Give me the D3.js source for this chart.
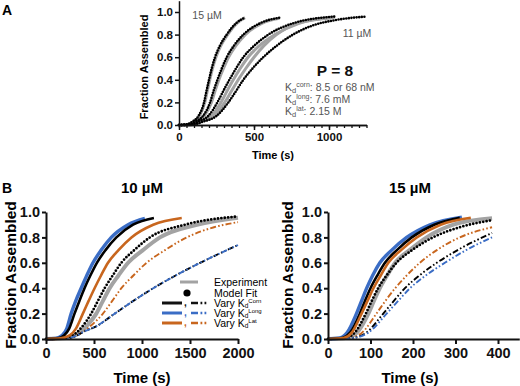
<!DOCTYPE html>
<html><head><meta charset="utf-8">
<script src="https://cdn.jsdelivr.net/npm/d3@7"></script>
<style>
body{margin:0;background:#fff;}
svg{display:block;font-family:"Liberation Sans",Arial,Helvetica,sans-serif;}
</style></head>
<body>
<svg id="c" width="520" height="386"></svg>
<script>
// ---------- DATA ----------
// Panel A: 15 µM .. 11 µM, experiment (grey) and model fit (black dots); [time s, fraction]
const aModel15 = [[0,0],[50,0.005],[90,0.03],[130,0.08],[167,0.2],[183,0.3],[200,0.4],[218,0.5],[240,0.6],[272,0.7],[318,0.8],[380,0.9],[440,0.95]];
const aExp15   = [[0,0],[55,0.005],[95,0.03],[135,0.08],[172,0.2],[188,0.3],[205,0.4],[223,0.5],[246,0.6],[278,0.7],[324,0.8],[385,0.9],[440,0.95]];
const aModel14 = [[0,0],[70,0.005],[110,0.03],[160,0.08],[207,0.2],[230,0.3],[256,0.4],[285,0.5],[318,0.6],[365,0.7],[429,0.8],[540,0.9],[670,0.95]];
const aExp14   = [[0,0],[75,0.005],[118,0.03],[168,0.08],[216,0.2],[240,0.3],[266,0.4],[296,0.5],[330,0.6],[378,0.7],[442,0.8],[552,0.9],[670,0.945]];
const aModel12 = [[0,0],[80,0.005],[130,0.03],[195,0.08],[256,0.2],[295,0.3],[336,0.4],[380,0.5],[429,0.6],[500,0.7],[596,0.8],[760,0.9],[1040,0.96]];
const aExp12   = [[0,0],[90,0.005],[145,0.03],[215,0.08],[280,0.2],[320,0.3],[362,0.4],[408,0.5],[460,0.6],[535,0.7],[640,0.8],[800,0.9],[1040,0.955]];
const aModel11 = [[0,0],[100,0.005],[160,0.03],[250,0.08],[329,0.2],[380,0.3],[429,0.4],[490,0.5],[562,0.6],[650,0.7],[760,0.8],[890,0.88],[1050,0.93],[1253,0.96]];
const aExp11   = [[0,0],[95,0.005],[150,0.03],[235,0.08],[305,0.2],[350,0.3],[395,0.4],[445,0.5],[500,0.6],[565,0.7],[650,0.8],[790,0.9],[1030,0.95]];
const aYTicks = [0,0.2,0.4,0.6,0.8,1.0];
const aXTicks = [0,500,1000];
const aKdLines = [["corn",": 8.5 or 68 nM"],["long",": 7.6 mM"],["lat",": 2.15 M"]];

// Panel B, 10 µM
const b10Exp      = [[0,0],[170,0.005],[330,0.04],[420,0.1],[524,0.2],[593,0.3],[663,0.4],[755,0.5],[855,0.6],[1010,0.7],[1187,0.8],[1571,0.9],[2000,0.955]];
const b10Model    = [[0,0],[150,0.005],[300,0.04],[380,0.1],[471,0.2],[541,0.3],[611,0.4],[695,0.5],[785,0.6],[920,0.7],[1082,0.8],[1449,0.9],[2000,0.965]];
const b10CornSolid= [[0,0],[120,0.005],[190,0.03],[240,0.08],[297,0.2],[348,0.3],[401,0.4],[462,0.5],[530,0.6],[620,0.7],[733,0.8],[907,0.9],[1124,0.953]];
const b10LongSolid= [[0,0],[100,0.005],[170,0.03],[215,0.08],[262,0.2],[310,0.3],[366,0.4],[425,0.5],[489,0.6],[575,0.7],[680,0.8],[855,0.9],[1030,0.95]];
const b10LatSolid = [[0,0],[150,0.005],[250,0.03],[310,0.08],[384,0.2],[444,0.3],[506,0.4],[573,0.5],[646,0.6],[755,0.7],[890,0.8],[1117,0.9],[1414,0.953]];
const b10CornDash = [[0,0],[200,0.003],[300,0.02],[400,0.06],[524,0.1],[716,0.2],[910,0.3],[1117,0.4],[1350,0.5],[1606,0.6],[2000,0.74]];
const b10LongDash = [[0,0],[200,0.003],[300,0.02],[400,0.06],[524,0.1],[716,0.2],[910,0.3],[1117,0.4],[1350,0.5],[1606,0.6],[2000,0.74]];
const b10LatDash  = [[0,0],[200,0.005],[350,0.04],[460,0.1],[593,0.2],[690,0.3],[785,0.4],[910,0.5],[1047,0.6],[1240,0.7],[1466,0.8],[1750,0.88],[2000,0.92]];
const b10XTicks = [0,500,1000,1500,2000];

// Panel B, 15 µM
const b15Exp      = [[0,0],[45,0.01],[68,0.05],[95,0.2],[108,0.3],[122,0.4],[139,0.5],[158,0.6],[192,0.7],[232,0.8],[295,0.9],[386,0.95]];
const b15Model    = [[0,0],[42,0.01],[63,0.05],[89,0.2],[103,0.3],[118,0.4],[138,0.5],[161,0.6],[198,0.7],[247,0.8],[310,0.88],[386,0.935]];
const b15CornSolid= [[0,0],[35,0.01],[52,0.05],[75,0.2],[87,0.3],[100,0.4],[116,0.5],[134,0.6],[162,0.7],[197,0.8],[250,0.9],[310,0.955]];
const b15LongSolid= [[0,0],[30,0.01],[45,0.05],[67,0.2],[79,0.3],[91,0.4],[105,0.5],[122,0.6],[150,0.7],[185,0.8],[240,0.9],[315,0.96]];
const b15LatSolid = [[0,0],[38,0.01],[56,0.05],[79,0.2],[93,0.3],[107,0.4],[124,0.5],[142,0.6],[172,0.7],[209,0.8],[265,0.9],[336,0.955]];
const b15CornDash = [[0,0],[60,0.01],[90,0.05],[130,0.2],[155,0.3],[181,0.4],[215,0.5],[256,0.6],[305,0.7],[386,0.835]];
const b15LongDash = [[0,0],[62,0.01],[95,0.05],[138,0.2],[165,0.3],[193,0.4],[230,0.5],[275,0.6],[325,0.7],[386,0.80]];
const b15LatDash  = [[0,0],[55,0.01],[80,0.05],[114,0.2],[135,0.3],[158,0.4],[185,0.5],[216,0.6],[256,0.7],[310,0.8],[386,0.88]];
const b15XTicks = [0,100,200,300,400];
const bYTicks = [0,0.2,0.4,0.6,0.8,1.0];

const legendRows = [["Corn","black"],["Long","blue"],["Lat","orange"]];

// ---------- STYLE ----------
const COL = {black:"#111", blue:"#3b6dc5", orange:"#c8661e", grey:"#a3a3a3"};
const DASH = "6,2.2,1.6,2.2,1.6,2.2";
const svg = d3.select("#c");
const fmtY = d3.format(".1f");
const fmtX = d3.format("d");

function styleAxis(g, w, fs){
  g.select(".domain").attr("stroke","#111").attr("stroke-width",w);
  g.selectAll(".tick line").attr("stroke","#111").attr("stroke-width",w);
  g.selectAll(".tick text").attr("fill","#111").attr("font-weight","bold")
    .attr("font-size",fs).attr("font-family","Liberation Sans, Arial, sans-serif");
}
function drawLine(g, data, x, y, opts){
  const ln = d3.line().x(d=>x(d[0])).y(d=>y(d[1])).curve(d3.curveMonotoneX);
  const p = g.append("path").attr("d", ln(data)).attr("fill","none")
    .attr("stroke", opts.color).attr("stroke-width", opts.width);
  if (opts.dash) p.attr("stroke-dasharray", opts.dash);
  if (opts.offset) p.attr("stroke-dashoffset", opts.offset);
  if (opts.round) p.attr("stroke-linecap","round");
  return p;
}

// ---------- PANEL A ----------
(function(){
  const x = d3.scaleLinear().domain([0,1250]).range([179,366.5]);
  const y = d3.scaleLinear().domain([0,1.1]).range([125,0.7]);
  const g = svg.append("g");
  const pairs = [[aExp15,aModel15],[aExp14,aModel14],[aExp12,aModel12],[aExp11,aModel11]];
  pairs.forEach(([e])=>drawLine(g,e,x,y,{color:COL.grey,width:3}));
  pairs.forEach(([,m])=>drawLine(g,m,x,y,{color:"#000",width:2.6,dash:"0,2.6",round:true}));
  const minor = d3.range(0,1251,50);
  const gm = g.append("g").attr("transform","translate(0,125)")
    .call(d3.axisBottom(x).tickValues(minor).tickSize(3).tickSizeOuter(0).tickFormat(""));
  styleAxis(gm,1.3,11);
  const gx = g.append("g").attr("transform","translate(0,125)")
    .call(d3.axisBottom(x).tickValues(aXTicks).tickSize(5).tickPadding(3).tickSizeOuter(0).tickFormat(fmtX));
  styleAxis(gx,1.5,11.5);
  const gy = g.append("g").attr("transform","translate(179,0)")
    .call(d3.axisLeft(y).tickValues(aYTicks).tickSize(4).tickPadding(2).tickSizeOuter(0).tickFormat(fmtY));
  styleAxis(gy,1.5,11.5);
  g.append("text").attr("x",273).attr("y",159).attr("text-anchor","middle")
    .attr("font-weight","bold").attr("font-size",11).text("Time (s)");
  g.append("text").attr("transform","translate(148,67) rotate(-90)").attr("text-anchor","middle")
    .attr("font-weight","bold").attr("font-size",11).text("Fraction Assembled");
  g.append("text").attr("x",207).attr("y",19).attr("text-anchor","middle")
    .attr("fill","#555").attr("font-size",10.5).text("15 µM");
  g.append("text").attr("x",357).attr("y",37).attr("text-anchor","middle")
    .attr("fill","#555").attr("font-size",10.5).text("11 µM");
  g.append("text").attr("x",335).attr("y",76).attr("text-anchor","middle")
    .attr("font-weight","bold").attr("font-size",15.5).attr("fill","#111").text("P = 8");
  aKdLines.forEach((r,i)=>{
    const t = g.append("text").attr("x",285).attr("y",91+i*12).attr("fill","#555").attr("font-size",10.5);
    t.append("tspan").text("K");
    t.append("tspan").attr("font-size",7.5).attr("dy",2).text("d");
    t.append("tspan").attr("font-size",7).attr("dy",-6).text(r[0]);
    t.append("tspan").attr("dy",4).text(r[1]);
  });
  svg.append("text").attr("x",2).attr("y",15).attr("font-weight","bold").attr("font-size",14).text("A");
})();

// ---------- PANEL B ----------
function panelB(opts){
  const x = d3.scaleLinear().domain(opts.xdom).range(opts.xr);
  const y = d3.scaleLinear().domain([0,1]).range([339,212]);
  const g = svg.append("g");
  const d = opts.data;
  drawLine(g,d.exp,x,y,{color:COL.grey,width:4});
  drawLine(g,d.model,x,y,{color:"#000",width:2.8,dash:"0,3.4",round:true});
  drawLine(g,d.latDash,x,y,{color:COL.orange,width:1.9,dash:DASH});
  drawLine(g,d.cornDash,x,y,{color:"#000",width:1.9,dash:DASH});
  drawLine(g,d.longDash,x,y,{color:COL.blue,width:1.9,dash:DASH,offset:opts.longOffset});
  drawLine(g,d.longSolid,x,y,{color:COL.blue,width:3.4});
  drawLine(g,d.cornSolid,x,y,{color:"#000",width:2.6});
  drawLine(g,d.latSolid,x,y,{color:COL.orange,width:2.6});
  const gx = g.append("g").attr("transform","translate(0,339)")
    .call(d3.axisBottom(x).tickValues(opts.xticks).tickSize(5).tickPadding(4).tickSizeOuter(0).tickFormat(fmtX));
  styleAxis(gx,2,14.5);
  const gy = g.append("g").attr("transform",`translate(${opts.xr[0]},0)`)
    .call(d3.axisLeft(y).tickValues(bYTicks).tickSize(4).tickPadding(2).tickSizeOuter(0).tickFormat(fmtY));
  styleAxis(gy,2,14.5);
  g.append("text").attr("x",opts.tx).attr("y",383).attr("text-anchor","middle")
    .attr("font-weight","bold").attr("font-size",15).text("Time (s)");
  g.append("text").attr("transform",`translate(${opts.ylx},275) rotate(-90)`).attr("text-anchor","middle")
    .attr("font-weight","bold").attr("font-size",15.5).text("Fraction Assembled");
  g.append("text").attr("x",opts.tx).attr("y",193).attr("text-anchor","middle")
    .attr("font-weight","bold").attr("font-size",15).text(opts.title);
}
panelB({xdom:[0,2000], xr:[46,238], xticks:b10XTicks, tx:142, ylx:16, title:"10 µM", longOffset:7,
  data:{exp:b10Exp,model:b10Model,cornSolid:b10CornSolid,longSolid:b10LongSolid,latSolid:b10LatSolid,
        cornDash:b10CornDash,longDash:b10LongDash,latDash:b10LatDash}});
panelB({xdom:[0,450], xr:[328,519.25], xticks:b15XTicks, tx:410, ylx:293, title:"15 µM", longOffset:0,
  data:{exp:b15Exp,model:b15Model,cornSolid:b15CornSolid,longSolid:b15LongSolid,latSolid:b15LatSolid,
        cornDash:b15CornDash,longDash:b15LongDash,latDash:b15LatDash}});
svg.append("text").attr("x",2).attr("y",193).attr("font-weight","bold").attr("font-size",14).text("B");

// ---------- LEGEND ----------
(function(){
  const g = svg.append("g");
  const fs = 10.5;
  g.append("line").attr("x1",180).attr("x2",198).attr("y1",282).attr("y2",282)
    .attr("stroke",COL.grey).attr("stroke-width",3);
  g.append("text").attr("x",214).attr("y",285.5).attr("font-size",fs).text("Experiment");
  g.append("circle").attr("cx",187).attr("cy",293).attr("r",3.6).attr("fill","#000");
  g.append("text").attr("x",214).attr("y",296.5).attr("font-size",fs).text("Model Fit");
  legendRows.forEach((r,i)=>{
    const yy = 303 + i*10, c = COL[r[1]];
    g.append("line").attr("x1",162).attr("x2",182).attr("y1",yy).attr("y2",yy).attr("stroke",c).attr("stroke-width",3);
    g.append("text").attr("x",184).attr("y",yy+3).attr("font-size",10).attr("font-weight","bold").attr("fill",c).text(",");
    g.append("line").attr("x1",191).attr("x2",208).attr("y1",yy).attr("y2",yy).attr("stroke",c)
      .attr("stroke-width",2.4).attr("stroke-dasharray","7,2.5,1.8,2.2,1.8,2.2");
    const t = g.append("text").attr("x",214).attr("y",yy+3.5).attr("font-size",fs);
    t.append("tspan").text("Vary K");
    t.append("tspan").attr("font-size",6.5).attr("dy",1.5).text("d");
    t.append("tspan").attr("font-size",6).attr("dy",-5).text(r[0]);
  });
})();
</script>
</body></html>
